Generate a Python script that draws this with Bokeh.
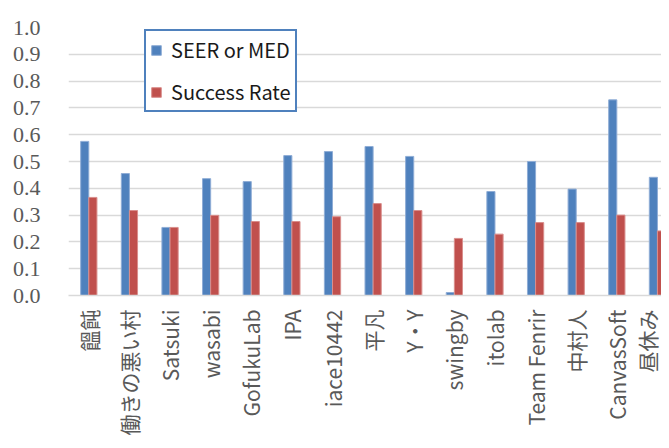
import numpy as np
from bokeh.plotting import figure
from bokeh.models import Range1d, FixedTicker, Legend, LegendItem, ColumnDataSource, BoxAnnotation
from bokeh.embed import file_html
from bokeh.resources import INLINE
import math

teams = ["饂飩", "働きの悪い村", "Satsuki", "wasabi", "GofukuLab", "IPA", "iace10442",
         "平凡", "Y・Y", "swingby", "itolab", "Team Fenrir", "中村人", "CanvasSoft", "昼休み"]
seer_med = [0.575, 0.455, 0.254, 0.436, 0.425, 0.522, 0.537, 0.556, 0.519, 0.011,
            0.388, 0.500, 0.397, 0.730, 0.441]
success_rate = [0.366, 0.317, 0.254, 0.299, 0.276, 0.276, 0.294, 0.343, 0.317, 0.213,
                0.229, 0.272, 0.272, 0.300, 0.241]
y_ticks = [0.0, 0.1, 0.2, 0.3, 0.4, 0.5, 0.6, 0.7, 0.8, 0.9, 1.0]

centers = np.arange(len(teams)) + 0.5
src = ColumnDataSource(dict(
    xb=centers - 0.1, xr=centers + 0.1, seer=seer_med, succ=success_rate))

p = figure(width=661, height=440, output_backend="svg", toolbar_location=None,
           x_range=Range1d(0, 14.6), y_range=Range1d(0, 1.0),
           min_border_left=68, min_border_right=0, min_border_top=27, min_border_bottom=145)
p.outline_line_color = None
p.background_fill_color = "white"

chart_border = BoxAnnotation(left=7, right=1000, top=10, bottom=1000,
                             left_units="canvas", right_units="canvas",
                             top_units="canvas", bottom_units="canvas",
                             fill_alpha=0, line_color="#D9D9D9", line_width=1.5,
                             level="underlay", editable=False)
p.add_layout(chart_border)

b = p.vbar(x="xb", top="seer", width=0.2, bottom=0, source=src,
           fill_color="#4F81BD", line_color="#8FADD6", line_width=1)
r = p.vbar(x="xr", top="succ", width=0.2, bottom=0, source=src,
           fill_color="#C0504D", line_color="#D98E8C", line_width=1)

p.xgrid.grid_line_color = None
p.ygrid.grid_line_color = "#D9D9D9"
p.ygrid.grid_line_width = 1.5
p.yaxis.ticker = FixedTicker(ticks=y_ticks)
p.yaxis.major_label_overrides = {t: f"{t:.1f}" for t in y_ticks}
p.yaxis.axis_line_color = None
p.yaxis.major_tick_line_color = None
p.yaxis.minor_tick_line_color = None
p.yaxis.major_tick_out = 0
p.yaxis.major_label_standoff = 28
p.yaxis.major_label_text_font = "Liberation Serif"
p.yaxis.major_label_text_font_size = "22px"
p.yaxis.major_label_text_color = "#595959"

p.xaxis.ticker = FixedTicker(ticks=list(centers))
p.xaxis.major_label_overrides = {float(c): t for c, t in zip(centers, teams)}
p.xaxis.major_label_orientation = math.pi / 2
p.xaxis.axis_line_color = "#D9D9D9"
p.xaxis.axis_line_width = 1.5
p.xaxis.major_tick_line_color = None
p.xaxis.minor_tick_line_color = None
p.xaxis.major_tick_out = 0
p.xaxis.major_label_standoff = 14
p.xaxis.major_label_text_font = "Noto Sans CJK JP"
p.xaxis.major_label_text_font_size = "21px"
p.xaxis.major_label_text_color = "#595959"

legend = Legend(items=[LegendItem(label="SEER or MED", renderers=[b]),
                       LegendItem(label="Success Rate", renderers=[r])],
                location=(76, 183))
legend.border_line_color = "#4F81BD"
legend.border_line_alpha = 1.0
legend.border_line_width = 2
legend.background_fill_color = "white"
legend.background_fill_alpha = 1.0
legend.label_text_font = "Noto Sans CJK JP"
legend.label_text_font_size = "20px"
legend.label_text_color = "#1a1a1a"
legend.glyph_width = 12
legend.glyph_height = 12
legend.label_height = 20
legend.spacing = 13
legend.padding = 4
legend.margin = 0
legend.label_standoff = 9
p.add_layout(legend)

open("out.html", "w").write(file_html(p, INLINE))
